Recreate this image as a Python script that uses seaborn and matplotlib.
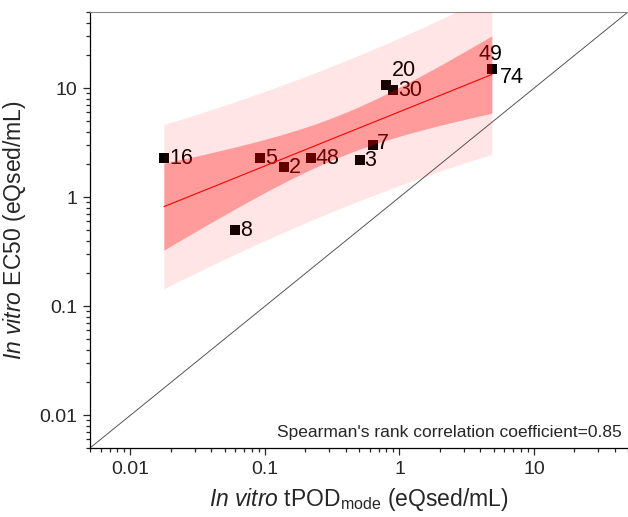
import numpy as np
import pandas as pd
import seaborn as sns
import matplotlib.pyplot as plt
from matplotlib.ticker import FuncFormatter, LogLocator

# compound labels and values (eQsed/mL)
labels = ['16', '5', '2', '48', '3', '7', '8', '20', '30', '49', '74']
tpod_mode = [0.0177, 0.0918, 0.138, 0.218, 0.506, 0.638, 0.0595, 0.80, 0.893, 4.86, 4.86]
ec50 = [2.27, 2.27, 1.90, 2.27, 2.21, 3.02, 0.50, 10.8, 9.7, 14.9, 14.9]
rho_text = "Spearman's rank correlation coefficient=0.85"

# label offsets in pixels (dx, dy)
label_offsets = {'16': (6, 0), '5': (5, 0), '2': (5, -1), '48': (5, 0), '3': (5, -1),
                 '7': (4, 1), '8': (5, 0), '20': (5, 14), '30': (5, -1),
                 '49': (-13, 15), '74': (8, -8)}

T95 = 2.262  # t critical value, df = 9

df = pd.DataFrame({'label': labels, 'tpod': tpod_mode, 'ec50': ec50})

sns.set_theme(style='ticks')
plt.rcParams['font.family'] = ['Liberation Sans', 'DejaVu Sans']
plt.rcParams['mathtext.fontset'] = 'custom'
plt.rcParams['mathtext.rm'] = 'Liberation Sans'
plt.rcParams['mathtext.it'] = 'Liberation Sans:italic'

fig = plt.figure(figsize=(6.28, 5.17), dpi=100)
ax = fig.add_axes([90 / 628, 69 / 517, 538 / 628, 436 / 517])

ax.set_xscale('log')
ax.set_yscale('log')
ax.set_xlim(0.005, 50)
ax.set_ylim(0.005, 50)

# 1:1 line
ax.axline((0.01, 0.01), (10, 10), color='#555555', lw=0.7, zorder=1)

# points + labels (drawn under the bands)
sns.scatterplot(data=df, x='tpod', y='ec50', marker='s', color='black', s=44,
                linewidth=0, ax=ax, zorder=2, legend=False)
for lab, xv, yv in zip(labels, tpod_mode, ec50):
    dx, dy = label_offsets[lab]
    ax.annotate(lab, (xv, yv), xytext=(dx, dy), textcoords='offset pixels',
                ha='left', va='center', fontsize=15.5, color='black', zorder=2)

# linear fit in log-log space with confidence / prediction bands
lx = np.log10(df['tpod'].values)
ly = np.log10(df['ec50'].values)
n = len(lx)
slope, intercept = np.polyfit(lx, ly, 1)
resid = ly - (slope * lx + intercept)
s = np.sqrt(np.sum(resid ** 2) / (n - 2))
sxx = np.sum((lx - lx.mean()) ** 2)
gx = np.linspace(lx.min(), lx.max(), 200)
gy = slope * gx + intercept
ci = T95 * s * np.sqrt(1 / n + (gx - lx.mean()) ** 2 / sxx)
pi = T95 * s * np.sqrt(1 + 1 / n + (gx - lx.mean()) ** 2 / sxx)

ax.fill_between(10 ** gx, 10 ** (gy - pi), 10 ** (gy + pi), color='red', alpha=0.1,
                linewidth=0, zorder=3)
ax.fill_between(10 ** gx, 10 ** (gy - ci), 10 ** (gy + ci), color='red', alpha=0.32,
                linewidth=0, zorder=4)
ax.plot(10 ** gx, 10 ** gy, color='red', lw=0.8, zorder=5)

ax.text(0.988, 0.035, rho_text, transform=ax.transAxes, ha='right', va='center',
        fontsize=12.5)

# axes styling
fmt = FuncFormatter(lambda v, p: f'{v:g}')
ax.xaxis.set_major_formatter(fmt)
ax.yaxis.set_major_formatter(fmt)
for axis in (ax.xaxis, ax.yaxis):
    axis.set_major_locator(LogLocator(base=10))
    axis.set_minor_locator(LogLocator(base=10, subs=np.arange(2, 10)))
ax.tick_params(which='major', direction='out', length=5, width=0.9, labelsize=14, pad=4)
ax.tick_params(which='minor', direction='out', length=3, width=0.9)
ax.tick_params(top=False, right=False, which='both')

ax.spines['right'].set_visible(False)
ax.spines['top'].set_color('#888888')
ax.spines['top'].set_linewidth(0.8)
for side in ('left', 'bottom'):
    ax.spines[side].set_color('black')
    ax.spines[side].set_linewidth(0.9)

ax.set_xlabel(r'$\mathit{In\ vitro}$ tPOD$_{\mathrm{mode}}$ (eQsed/mL)', fontsize=16.5, labelpad=6)
ax.set_ylabel(r'$\mathit{In\ vitro}$ EC50 (eQsed/mL)', fontsize=16.5, labelpad=8)

fig.savefig('out.png', dpi=100)
